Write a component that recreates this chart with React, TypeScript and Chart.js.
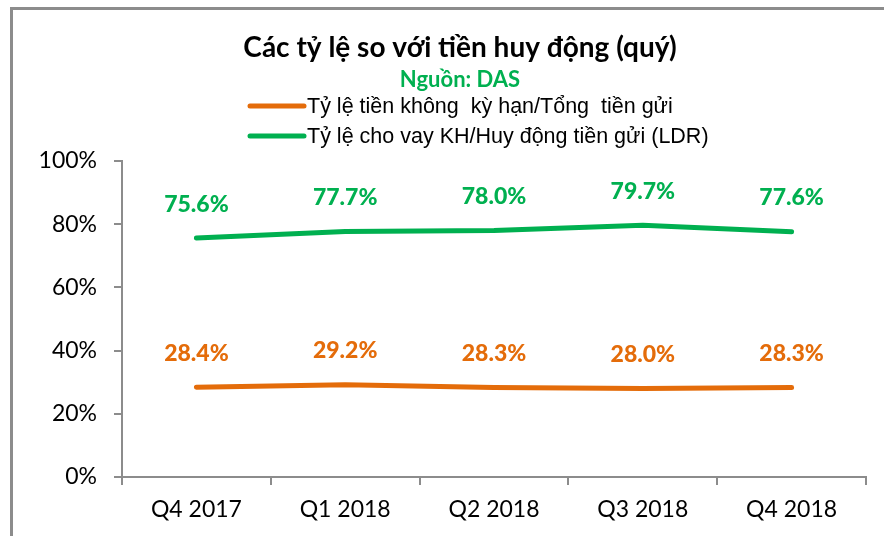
import React, { useEffect, useRef } from "react";
import { Chart, registerables } from "chart.js";

Chart.register(...registerables);

const categories = ["Q4 2017", "Q1 2018", "Q2 2018", "Q3 2018", "Q4 2018"];
const casaRatio = [28.4, 29.2, 28.3, 28.0, 28.3];
const ldrRatio = [75.6, 77.7, 78.0, 79.7, 77.6];
const seriesNames = [
  "Tỷ lệ tiền không  kỳ hạn/Tổng  tiền gửi",
  "Tỷ lệ cho vay KH/Huy động tiền gửi (LDR)",
];
const yTicks = [0, 20, 40, 60, 80, 100];
const titleText = "Các tỷ lệ so với tiền huy động (quý)";
const subtitleText = "Nguồn: DAS";

const ORANGE = "#E46C0A";
const GREEN = "#00B050";
const AXIS = "#8c8c8c";

export default function App() {
  const ref = useRef<HTMLCanvasElement | null>(null);

  useEffect(() => {
    document.body.style.margin = "0";
    const canvas = ref.current;
    if (!canvas) return;

    const headerPlugin = {
      id: "header",
      afterDraw(chart: any) {
        const ctx = chart.ctx;
        ctx.save();
        ctx.textAlign = "center";
        ctx.textBaseline = "alphabetic";
        ctx.fillStyle = "#000";
        ctx.font = "bold 28px Lato";
        ctx.fillText(titleText, 460, 57);
        ctx.fillStyle = GREEN;
        ctx.font = "bold 22px Lato";
        ctx.fillText(subtitleText, 460, 87);
        const colors = [ORANGE, GREEN];
        const ys = [106, 136];
        ctx.font = "21.5px 'Liberation Sans'";
        ctx.textAlign = "left";
        for (let i = 0; i < 2; i++) {
          ctx.strokeStyle = colors[i];
          ctx.lineWidth = 5;
          ctx.lineCap = "round";
          ctx.beginPath();
          ctx.moveTo(250, ys[i]);
          ctx.lineTo(304, ys[i]);
          ctx.stroke();
          ctx.fillStyle = "#000";
          ctx.fillText(seriesNames[i], 307, ys[i] + 7);
        }
        ctx.restore();
      },
    };

    const labelPlugin = {
      id: "pointLabels",
      afterDatasetsDraw(chart: any) {
        const ctx = chart.ctx;
        ctx.save();
        ctx.font = "900 23px Lato";
        ctx.textAlign = "center";
        ctx.textBaseline = "middle";
        chart.data.datasets.forEach((ds: any, di: number) => {
          const meta = chart.getDatasetMeta(di);
          ctx.fillStyle = ds.borderColor;
          meta.data.forEach((pt: any, i: number) => {
            ctx.fillText(ds.data[i].toFixed(1) + "%", pt.x, pt.y - 34);
          });
        });
        ctx.restore();
      },
    };

    const chart = new Chart(canvas, {
      type: "line",
      data: {
        labels: categories,
        datasets: [
          {
            label: seriesNames[0],
            data: casaRatio,
            borderColor: ORANGE,
            backgroundColor: ORANGE,
            borderWidth: 5,
            pointRadius: 0,
            tension: 0,
            borderCapStyle: "round",
            borderJoinStyle: "round",
          },
          {
            label: seriesNames[1],
            data: ldrRatio,
            borderColor: GREEN,
            backgroundColor: GREEN,
            borderWidth: 5,
            pointRadius: 0,
            tension: 0,
            borderCapStyle: "round",
            borderJoinStyle: "round",
          },
        ],
      },
      options: {
        responsive: false,
        animation: false,
        layout: { padding: { left: 0, right: 18, top: 161, bottom: 0 } },
        plugins: {
          legend: { display: false },
          title: { display: false },
          tooltip: { enabled: false },
        },
        scales: {
          x: {
            offset: true,
            grid: {
              offset: true,
              drawOnChartArea: false,
              drawTicks: true,
              tickLength: 8,
              color: AXIS,
              lineWidth: 2,
            },
            border: { color: AXIS, width: 2 },
            ticks: {
              color: "#000",
              font: { family: "Lato", size: 23 },
              padding: 11,
              maxRotation: 0,
            },
            afterFit(s: any) {
              s.height = 59;
            },
          },
          y: {
            min: 0,
            max: 100,
            afterBuildTicks(s: any) {
              s.ticks = yTicks.map((v) => ({ value: v }));
            },
            grid: {
              drawOnChartArea: false,
              drawTicks: true,
              tickLength: 8,
              color: AXIS,
              lineWidth: 2,
            },
            border: { color: AXIS, width: 2 },
            ticks: {
              color: "#000",
              font: { family: "Lato", size: 23 },
              padding: 17,
              callback: (v: any) => v + "%",
            },
            afterFit(s: any) {
              s.width = 122;
            },
          },
        },
      },
      plugins: [headerPlugin, labelPlugin],
    });
    return () => chart.destroy();
  }, []);

  return (
    <div style={{ position: "relative", width: 884, height: 536, overflow: "hidden", background: "#fff" }}>
      <div
        style={{
          position: "absolute",
          left: 10,
          top: 7,
          width: 1000,
          height: 1000,
          borderTop: "3px solid #8c8c8c",
          borderLeft: "3px solid #8c8c8c",
        }}
      />
      <canvas ref={ref} width={884} height={536} style={{ position: "absolute", left: 0, top: 0 }} />
    </div>
  );
}
